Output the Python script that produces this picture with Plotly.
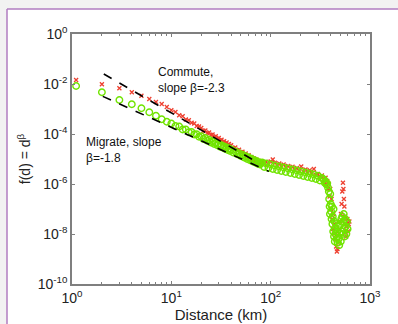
import plotly.graph_objects as go

# ---- data (distance in km, log10 of f(d)) ----
commute_d = [1.1, 2, 3, 4, 5, 6, 7, 8, 9, 10, 11, 12, 13, 14, 15, 16, 17, 18, 19,
             20, 21, 22, 23, 24, 25, 26, 27, 28, 29, 30, 31, 32, 33, 34, 35, 36, 37, 38, 39, 40,
             42, 44, 46, 48, 50, 52, 54, 56, 58, 60, 62, 64, 66, 68, 70, 72, 74, 76, 78, 80,
             82, 86, 90, 95, 100, 105, 110, 116, 122, 128, 135, 142, 150, 158, 166,
             175, 184, 193, 203, 213, 224, 235, 247, 259, 272, 285, 299, 313, 328,
             343, 350, 357, 364, 371, 378, 385, 392, 398, 404, 410, 416, 422, 428, 434, 440,
             448, 456, 464, 470, 478, 486, 494, 502, 510, 518, 526, 534, 540, 546, 552, 558,
             564, 570, 576, 584, 592, 600, 610, 620]
commute_log10_f = [-1.84, -2.01, -2.17, -2.33, -2.47, -2.60, -2.72, -2.80, -2.92, -3.05,
                   -3.12, -3.25, -3.29, -3.42, -3.45, -3.55, -3.58, -3.68, -3.70,
                   -3.76, -3.87, -3.86, -3.96, -3.94, -4.04, -4.02, -4.12, -4.09, -4.19,
                   -4.16, -4.26, -4.23, -4.32, -4.29, -4.38, -4.34, -4.43, -4.40, -4.48, -4.45,
                   -4.56, -4.54, -4.65, -4.63, -4.73, -4.71, -4.81, -4.78, -4.88, -4.85,
                   -4.94, -4.92, -5.01, -4.98, -5.06, -5.03, -5.12, -5.08, -5.15, -5.10,
                   -5.10, -5.20, -5.12, -5.22, -5.10, -5.02, -5.15, -5.24, -5.18, -5.30,
                   -5.22, -5.34, -5.28, -5.38, -5.31,
                   -5.44, -5.36, -5.47, -5.30, -5.50, -5.42, -5.56, -5.45, -5.58, -5.40,
                   -5.64, -5.60, -5.72, -5.66,
                   -5.80, -5.95, -5.75, -6.02, -5.88, -6.20, -6.00, -6.50, -6.20, -7.00,
                   -6.60, -7.40, -7.80, -7.20, -8.00, -7.60, -8.20, -8.50, -8.70, -8.60,
                   -8.30, -8.00, -7.80, -7.50, -7.20, -6.80, -6.30, -5.95, -6.20, -6.60,
                   -6.90, -7.30, -7.60, -7.90, -8.10, -7.70, -7.40, -7.90, -7.60, -7.50]

migrate_d = [1.1, 2, 3, 4, 5, 6, 7, 8, 9, 10, 11, 12, 13, 14, 15, 16, 17, 18, 19,
             20, 21, 22, 23, 24, 25, 26, 27, 28, 29, 30, 31, 32, 33, 34, 35, 36, 37, 38, 39, 40,
             42, 44, 46, 48, 50, 52, 54, 56, 58, 60, 62, 64, 66, 68, 70, 72, 74, 76, 78, 80,
             82, 86, 90, 95, 100, 105, 110, 116, 122, 128, 135, 142, 150, 158, 166,
             175, 184, 193, 203, 213, 224, 235, 247, 259, 272, 285, 299, 313, 328,
             343, 350, 357, 364, 371, 378, 385, 388, 392, 395, 398, 402, 406, 410, 414, 418,
             422, 426, 430, 434, 438, 442, 446, 450, 455, 460, 466, 472, 478, 484, 490, 496,
             502, 508, 514, 520, 526, 532, 538, 544, 550, 556, 562, 570, 578, 586, 595]
migrate_log10_f = [-2.08, -2.33, -2.64, -2.81, -2.97, -3.13, -3.27, -3.41, -3.51, -3.58,
                   -3.68, -3.70, -3.82, -3.82, -3.93, -3.92, -4.02, -4.01, -4.11,
                   -4.09, -4.20, -4.16, -4.27, -4.23, -4.34, -4.29, -4.40, -4.35, -4.45,
                   -4.40, -4.51, -4.45, -4.55, -4.50, -4.60, -4.54, -4.64, -4.58, -4.68, -4.62,
                   -4.74, -4.70, -4.81, -4.77, -4.88, -4.83, -4.94, -4.89, -5.00, -4.94,
                   -5.05, -4.99, -5.10, -5.04, -5.14, -5.08, -5.19, -5.13, -5.22, -5.16,
                   -5.14, -5.32, -5.18, -5.36, -5.22, -5.40, -5.26, -5.44, -5.30, -5.48,
                   -5.34, -5.52, -5.38, -5.56, -5.42,
                   -5.60, -5.46, -5.64, -5.50, -5.68, -5.54, -5.72, -5.58, -5.76, -5.62,
                   -5.80, -5.67, -5.86, -5.76,
                   -5.82, -5.95, -5.90, -6.02, -5.98, -6.15, -6.30, -6.60, -6.90, -7.20,
                   -6.40, -6.80, -7.10, -7.40, -6.90, -7.60, -7.30, -7.90, -7.00, -8.10,
                   -7.50, -8.30, -7.80, -8.00, -7.60, -8.20, -7.90, -8.35, -7.70, -8.20,
                   -8.45, -8.00, -7.60, -8.30, -7.40, -7.90, -7.30, -8.00, -7.50, -7.20,
                   -7.80, -8.10, -7.40, -7.70, -8.00, -7.50, -7.80]

# fitted power-law lines (end points)
fit_commute_d = [2.09, 76]
fit_commute_f = [2.5e-2, 6.8e-6]
fit_migrate_d = [2.04, 96]
fit_migrate_f = [3.2e-3, 3.2e-6]

# tick labels
x_tickvals = [1, 10, 100, 1000]
x_ticktext = ["10<sup>0</sup>", "10<sup>1</sup>", "10<sup>2</sup>", "10<sup>3</sup>"]
y_tickvals = [1, 1e-2, 1e-4, 1e-6, 1e-8, 1e-10]
y_ticktext = ["10<sup>0</sup>", "10<sup>-2</sup>", "10<sup>-4</sup>", "10<sup>-6</sup>",
              "10<sup>-8</sup>", "10<sup>-10</sup>"]

commute_f = [10 ** v for v in commute_log10_f]
migrate_f = [10 ** v for v in migrate_log10_f]

FONT = "Arial, Liberation Sans, sans-serif"
AXC = "#7f7f7f"
RED = "#ee4030"
GREEN = "#70e400"

fig = go.Figure()
fig.add_trace(go.Scatter(x=commute_d, y=commute_f, mode="markers",
                         marker=dict(symbol="x-thin", size=4, color=RED,
                                     line=dict(width=1.3, color=RED)),
                         showlegend=False))
fig.add_trace(go.Scatter(x=migrate_d, y=migrate_f, mode="markers",
                         marker=dict(symbol="circle-open", size=6.5, color=GREEN,
                                     line=dict(width=1.4, color=GREEN)),
                         showlegend=False))
fig.add_trace(go.Scatter(x=fit_commute_d, y=fit_commute_f, mode="lines",
                         line=dict(color="black", width=1.6, dash="dash"), showlegend=False))
fig.add_trace(go.Scatter(x=fit_migrate_d, y=fit_migrate_f, mode="lines",
                         line=dict(color="black", width=1.6, dash="dash"), showlegend=False))

L, R, T, B = 72, 28, 34, 40
W, H = 398, 324
pw, ph = W - L - R, H - T - B
def px(xp): return (xp - L) / pw
def py(yp): return (H - B - yp) / ph

shapes = [
    dict(type="rect", xref="paper", yref="paper", x0=px(7), x1=px(W + 5), y0=py(H + 5), y1=py(9),
         fillcolor="white", line=dict(width=0), layer="below"),
    dict(type="line", xref="paper", yref="paper", x0=px(7), x1=px(W + 5), y0=py(9), y1=py(9),
         line=dict(color="#b07cc0", width=1.5), layer="below"),
    dict(type="line", xref="paper", yref="paper", x0=px(7), x1=px(7), y0=py(9), y1=py(H + 5),
         line=dict(color="#b07cc0", width=1.5), layer="below"),
]

fig.update_layout(
    width=W, height=H,
    margin=dict(l=L, r=R, t=T, b=B),
    paper_bgcolor="#f2f2f2", plot_bgcolor="white",
    font=dict(family=FONT, size=13, color="#222"),
    shapes=shapes,
    annotations=[
        dict(text="Commute,<br>slope β=-2.3", xref="paper", yref="paper",
             x=px(156), y=py(79.5), xanchor="left", yanchor="middle", align="left",
             showarrow=False, font=dict(size=12, color="#111", family=FONT)),
        dict(text="Migrate, slope<br>β=-1.8", xref="paper", yref="paper",
             x=px(84), y=py(149.5), xanchor="left", yanchor="middle", align="left",
             showarrow=False, font=dict(size=12, color="#111", family=FONT)),
    ],
)
fig.update_xaxes(type="log", range=[0, 3], tickvals=x_tickvals, ticktext=x_ticktext,
                 automargin=False,
                 showgrid=False, zeroline=False, showline=True, linecolor=AXC, linewidth=1.5,
                 mirror="allticks", ticks="inside", ticklen=3, tickcolor=AXC,
                 minor=dict(ticks="inside", ticklen=2, tickcolor=AXC, dtick="D1", showgrid=False),
                 tickfont=dict(size=14, color="#222"),
                 title=dict(text="Distance (km)", font=dict(size=15, color="#222"), standoff=0))
fig.update_yaxes(type="log", range=[-10, 0], tickvals=y_tickvals, ticktext=y_ticktext,
                 automargin=False,
                 showgrid=False, zeroline=False, showline=True, linecolor=AXC, linewidth=1.5,
                 mirror="allticks", ticks="inside", ticklen=3, tickcolor=AXC,
                 tickfont=dict(size=14, color="#222"),
                 title=dict(text="f(d) = d<sup>β</sup>", font=dict(size=14, color="#222"), standoff=4))

fig.write_html("out.html", config={"displayModeBar": False},
               post_script="document.body.style.margin='0';document.body.style.padding='0';")
